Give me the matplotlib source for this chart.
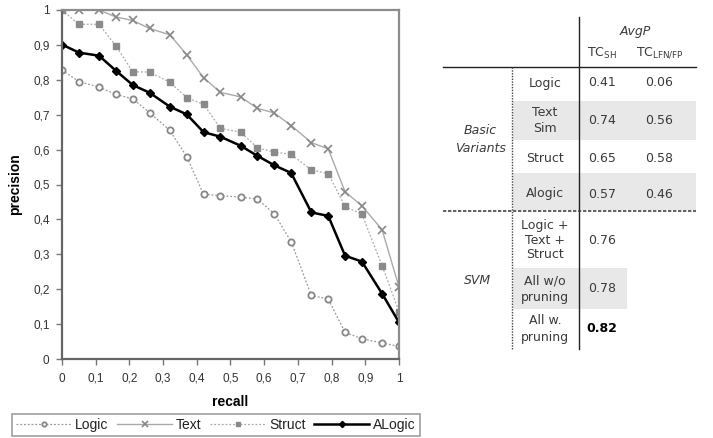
import matplotlib.pyplot as plt
from matplotlib.lines import Line2D
from matplotlib.patches import Rectangle

# --- dane wykresu ---
recall = [0, 0.05, 0.11, 0.16, 0.21, 0.26, 0.32, 0.37, 0.42, 0.47,
          0.53, 0.58, 0.63, 0.68, 0.74, 0.79, 0.84, 0.89, 0.95, 1.0]
logic = [0.828, 0.795, 0.779, 0.758, 0.745, 0.706, 0.655, 0.580, 0.472, 0.468,
         0.464, 0.458, 0.416, 0.336, 0.182, 0.172, 0.076, 0.058, 0.046, 0.036]
text = [1.0, 1.0, 1.0, 0.98, 0.97, 0.947, 0.929, 0.872, 0.806, 0.764,
        0.751, 0.718, 0.705, 0.669, 0.620, 0.602, 0.479, 0.439, 0.370, 0.206]
struct = [1.0, 0.959, 0.959, 0.897, 0.823, 0.822, 0.793, 0.749, 0.730, 0.661,
          0.650, 0.605, 0.593, 0.586, 0.542, 0.531, 0.437, 0.415, 0.267, 0.136]
alogic = [0.901, 0.878, 0.869, 0.826, 0.785, 0.763, 0.723, 0.701, 0.650, 0.637,
          0.611, 0.582, 0.555, 0.533, 0.420, 0.410, 0.296, 0.279, 0.187, 0.105]

ticks = [0, 0.1, 0.2, 0.3, 0.4, 0.5, 0.6, 0.7, 0.8, 0.9, 1]
tick_labels = ['0', '0,1', '0,2', '0,3', '0,4', '0,5', '0,6', '0,7', '0,8', '0,9', '1']

# --- dane tabeli ---
basic_rows = ['Logic', 'Text\nSim', 'Struct', 'Alogic']
basic_sh = ['0.41', '0.74', '0.65', '0.57']
basic_lfn = ['0.06', '0.56', '0.58', '0.46']
svm_rows = ['Logic +\nText +\nStruct', 'All w/o\npruning', 'All w.\npruning']
svm_sh = ['0.76', '0.78', '0.82']

plt.rcParams['font.family'] = ['Liberation Sans', 'DejaVu Sans']

fig = plt.figure(figsize=(7.13, 4.38), dpi=100)
ax = fig.add_axes([62/713, 1-359/438, 337/713, 349/438])

ax.plot(recall, logic, color='#999999', lw=0.9, ls=(0, (1.5, 1.5)),
        marker='o', ms=4.5, mfc='white', mec='#888888', mew=1.3, label='Logic')
ax.plot(recall, text, color='#aaaaaa', lw=1.0, ls='-',
        marker='x', ms=6, mec='#888888', mew=1.2, label='Text')
ax.plot(recall, struct, color='#aaaaaa', lw=0.9, ls=(0, (1.5, 1.5)),
        marker='s', ms=5, mfc='#8a8a8a', mec='#8a8a8a', label='Struct')
ax.plot(recall, alogic, color='black', lw=1.8, ls='-',
        marker='D', ms=4.5, mfc='black', mec='black', label='ALogic')

ax.set_xlim(0, 1)
ax.set_ylim(0, 1)
ax.set_xticks(ticks)
ax.set_xticklabels(tick_labels)
ax.set_yticks(ticks)
ax.set_yticklabels(tick_labels)
ax.tick_params(labelsize=8.5, colors='#333333', length=4, width=1, color='#777777', pad=5)
ax.tick_params(axis='x', pad=6)
for s in ['left', 'bottom']:
    ax.spines[s].set_color('#666666')
    ax.spines[s].set_linewidth(1.6)
for s in ['top', 'right']:
    ax.spines[s].set_color('#8c8c8c')
    ax.spines[s].set_linewidth(1.6)
ax.set_xlabel('recall', fontsize=10, fontweight='bold', labelpad=7)
ax.set_ylabel('precision', fontsize=10, fontweight='bold')
ax.yaxis.set_label_coords(-0.12, 0.5)

leg = fig.legend(loc='upper left', bbox_to_anchor=(12/713, 1-414/438), ncol=4,
                 fontsize=10, handlelength=4.0, handletextpad=0.25, columnspacing=0.6,
                 borderpad=0.3, borderaxespad=0, fancybox=False, markerscale=0.7)
leg.get_frame().set_edgecolor('#888888')
leg.get_frame().set_linewidth(1.2)
for t in leg.get_texts():
    t.set_color('#222222')

# --- tabela (wspolrzedne w pikselach obrazka) ---
tx = fig.add_axes([430/713, 0, 283/713, 1])
tx.set_xlim(430, 713)
tx.set_ylim(438, 0)
tx.axis('off')

tf = ['DejaVu Sans']
tc = '#3a3a3a'
fs = 9

# szare pasy
tx.add_patch(Rectangle((513, 101), 183, 39, color='#e8e8e8', lw=0))
tx.add_patch(Rectangle((513, 173), 183, 37, color='#e8e8e8', lw=0))
tx.add_patch(Rectangle((513, 268), 114, 41, color='#e8e8e8', lw=0))

# linie
tx.add_line(Line2D([579, 579], [17, 349], color='#222222', lw=1.0))
tx.add_line(Line2D([443, 696], [67, 67], color='#222222', lw=1.0))
tx.add_line(Line2D([512, 512], [67, 349], color='#444444', lw=1.0, ls=(0, (1, 1))))
tx.add_line(Line2D([443, 696], [211, 211], color='#444444', lw=1.2, ls=(0, (2, 1))))

# naglowki
tx.text(635, 32, 'AvgP', fontsize=fs, style='italic', color=tc, family=tf, ha='center', va='center')
tx.text(602, 53, r'TC$_{\mathregular{SH}}$', fontsize=fs, color=tc, family=tf, ha='center', va='center')
tx.text(660, 53, r'TC$_{\mathregular{LFN/FP}}$', fontsize=fs, color=tc, family=tf, ha='center', va='center')

tx.text(480, 139, 'Basic\nVariants', fontsize=fs, style='italic', color=tc, family=tf,
        ha='center', va='center', linespacing=1.5)
tx.text(477, 281, 'SVM', fontsize=fs, style='italic', color=tc, family=tf, ha='center', va='center')

basic_y = [83, 120, 159, 194]
for lab, a, b, y in zip(basic_rows, basic_sh, basic_lfn, basic_y):
    tx.text(545, y, lab, fontsize=fs, color=tc, family=tf, ha='center', va='center', linespacing=1.3)
    tx.text(602, y, a, fontsize=fs, color=tc, family=tf, ha='center', va='center')
    tx.text(659, y, b, fontsize=fs, color=tc, family=tf, ha='center', va='center')

svm_y = [240, 289, 329]
for i, (lab, a, y) in enumerate(zip(svm_rows, svm_sh, svm_y)):
    tx.text(545, y, lab, fontsize=fs, color=tc, family=tf, ha='center', va='center',
            linespacing=1.15 if i == 0 else 1.3)
    tx.text(602, y, a, fontsize=fs, color='black' if i == 2 else tc, family=tf,
            fontweight='bold' if i == 2 else 'normal', ha='center', va='center')

fig.savefig('out.png', dpi=100)
